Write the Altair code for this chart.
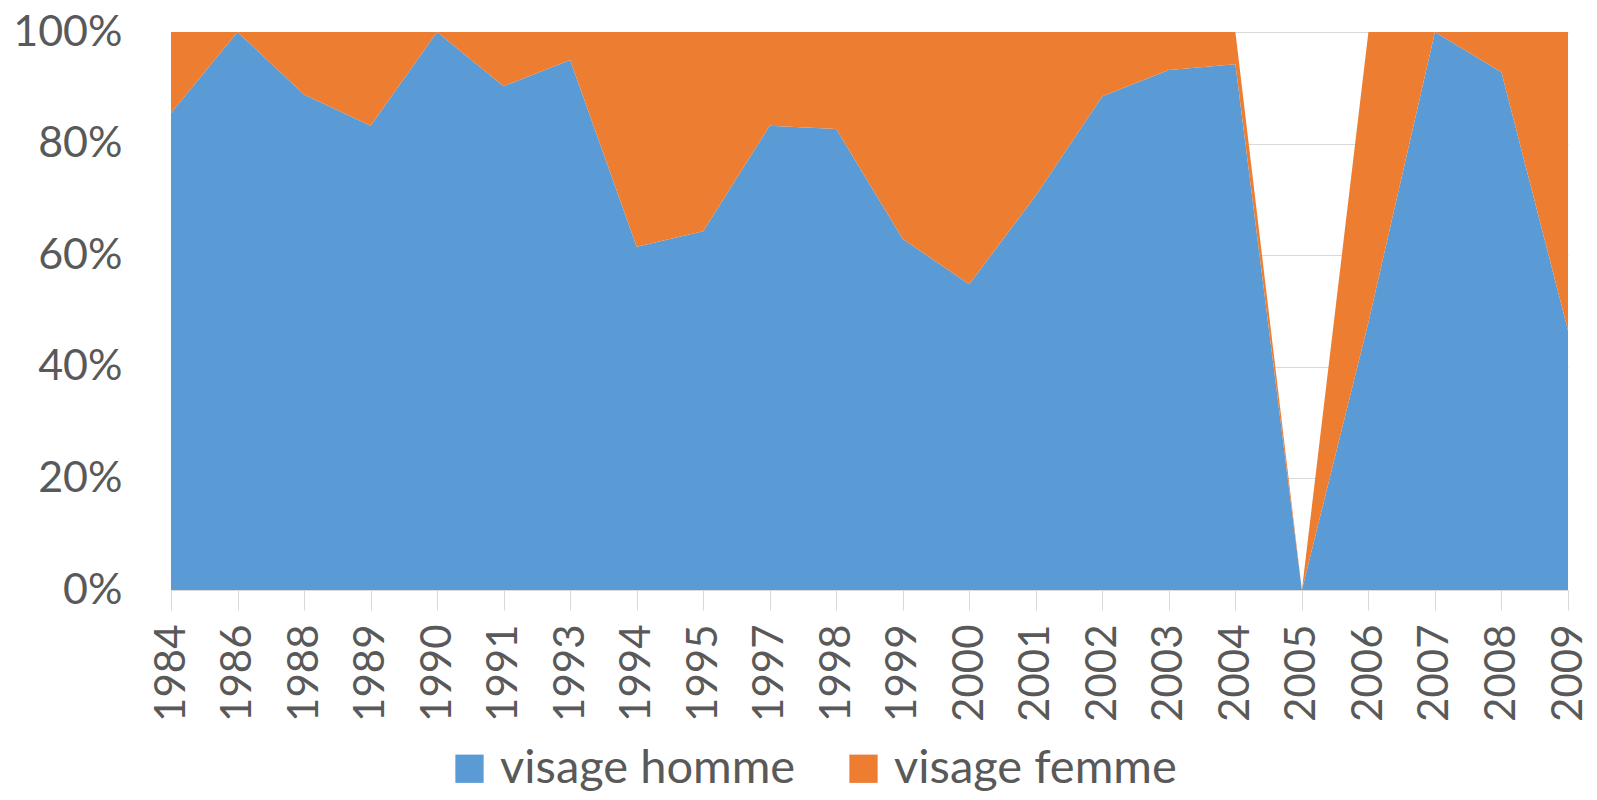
import altair as alt
import pandas as pd

years = ["1984", "1986", "1988", "1989", "1990", "1991", "1993", "1994", "1995", "1997",
         "1998", "1999", "2000", "2001", "2002", "2003", "2004", "2005", "2006", "2007",
         "2008", "2009"]
homme = [85.5, 100, 88.8, 83.2, 100, 90.3, 95.0, 61.5, 64.3, 83.2,
         82.6, 62.9, 54.8, 70.7, 88.5, 93.2, 94.2, 0, 48.0, 100,
         92.8, 46.5]
femme = [14.5, 0, 11.2, 16.8, 0, 9.7, 5.0, 38.5, 35.7, 16.8,
         17.4, 37.1, 45.2, 29.3, 11.5, 6.8, 5.8, 0, 52.0, 0,
         7.2, 53.5]
series = ["visage homme", "visage femme"]
colors = ["#5B9BD5", "#ED7D31"]
y_ticks = [0, 20, 40, 60, 80, 100]

rows = []
for i, yr in enumerate(years):
    rows.append({"year": yr, "serie": series[0], "value": homme[i], "ord": 0})
    rows.append({"year": yr, "serie": series[1], "value": femme[i], "ord": 1})
df = pd.DataFrame(rows)

FONT = "Lato"
GREY = "#595959"

chart = alt.Chart(df).mark_area(opacity=1).encode(
    x=alt.X("year:O", sort=years,
            scale=alt.Scale(type="point", padding=0),
            axis=alt.Axis(title=None, labelAngle=270, labelFontSize=42, labelFont=FONT,
                          labelColor=GREY, domainColor="#D9D9D9", tickColor="#D9D9D9",
                          tickSize=20, labelPadding=14, grid=False)),
    y=alt.Y("value:Q", stack="zero",
            scale=alt.Scale(domain=[0, 100], nice=False),
            axis=alt.Axis(title=None, values=y_ticks, labelExpr="datum.value + '%'",
                          labelFontSize=43, labelFont=FONT, labelColor=GREY,
                          labelPadding=49, ticks=False, domain=False,
                          gridColor="#D9D9D9", gridWidth=1)),
    color=alt.Color("serie:N",
                    scale=alt.Scale(domain=series, range=colors),
                    legend=alt.Legend(title=None, orient="none", direction="horizontal",
                                      legendX=275, legendY=713,
                                      symbolType="square", symbolSize=800,
                                      symbolStrokeWidth=0, labelLimit=0,
                                      labelFontSize=47, labelFont=FONT, labelColor=GREY,
                                      labelOffset=7, columnPadding=44)),
    order=alt.Order("ord:Q", sort="ascending"),
).properties(
    width=1397, height=558,
    padding={"left": 163, "top": 24, "right": 21, "bottom": 202},
    autosize=alt.AutoSizeParams(type="none"),
).configure_view(stroke=None)

chart.save("out.html", embed_options={"renderer": "svg", "actions": False})
